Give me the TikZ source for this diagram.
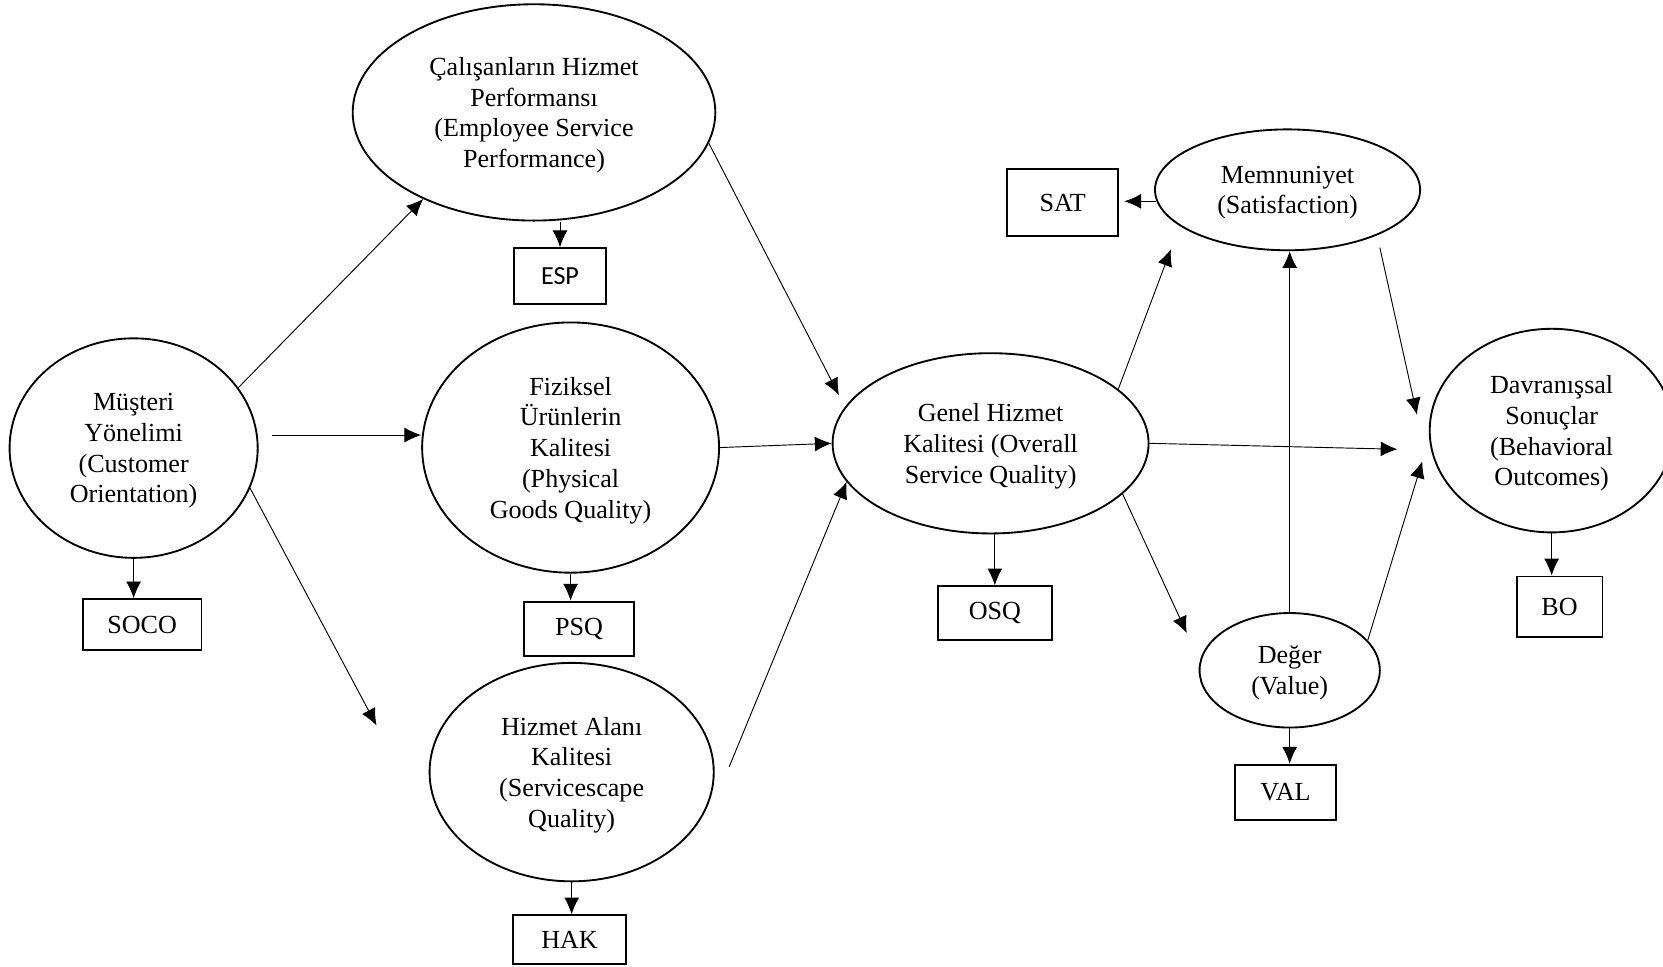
\documentclass[tikz,border=0pt]{standalone}
\usepackage{fontspec}
\setmainfont{Liberation Serif}
\newfontfamily\espfont{Carlito}
\usetikzlibrary{arrows.meta,shapes.geometric}

\begin{document}
\begin{tikzpicture}[x=0.02cm,y=-0.02cm,
  latent/.style={ellipse,draw,line width=1pt,inner sep=0pt,align=center,font=\fontsize{14}{16.5}\selectfont,text depth=-1.5pt},
  ind/.style={rectangle,draw,line width=1pt,inner sep=0pt,font=\fontsize{14}{16.5}\selectfont},
  arr/.style={-{Latex[length=9pt,width=8pt]},line width=0.5pt}]
\useasboundingbox (0,0) rectangle (1568,911);

\node[latent,minimum width=6.84cm,minimum height=4.08cm] (esp) at (503.5,106) {Çalışanların Hizmet\\Performansı\\(Employee Service\\Performance)};
\node[latent,minimum width=4.68cm,minimum height=4.14cm] (co) at (126,422.5) {Müşteri\\Yönelimi\\(Customer\\Orientation)};
\node[latent,minimum width=5.6cm,minimum height=4.72cm] (psq) at (538,422) {Fiziksel\\Ürünlerin\\Kalitesi\\(Physical\\Goods Quality)};
\node[latent,minimum width=5.36cm,minimum height=4.12cm] (hak) at (539,728) {Hizmet Alanı\\Kalitesi\\(Servicescape\\Quality)};
\node[latent,minimum width=5.96cm,minimum height=3.4cm] (osq) at (934,418) {Genel Hizmet\\Kalitesi (Overall\\Service Quality)};
\node[latent,minimum width=5cm,minimum height=2.28cm] (sat) at (1214,179) {Memnuniyet\\(Satisfaction)};
\node[latent,minimum width=3.4cm,minimum height=2.16cm] (val) at (1216,632) {Değer\\(Value)};
\node[latent,minimum width=4.6cm,minimum height=3.84cm] (bo) at (1463,406) {Davranışsal\\Sonuçlar\\(Behavioral\\Outcomes)};

\node[ind,minimum width=1.75cm,minimum height=1.06cm] (ESP) at (528,260.5) {\espfont ESP};
\node[ind,minimum width=2.24cm,minimum height=0.96cm] (SOCO) at (134,589) {SOCO};
\node[ind,minimum width=2.08cm,minimum height=1.03cm] (PSQ) at (546,593) {PSQ};
\node[ind,minimum width=2.12cm,minimum height=0.92cm] (HAK) at (537,886) {HAK};
\node[ind,minimum width=2.14cm,minimum height=1.01cm] (OSQ) at (938,578) {OSQ};
\node[ind,minimum width=2.09cm,minimum height=1.26cm] (SAT) at (1002,191) {SAT};
\node[ind,minimum width=1.9cm,minimum height=1.04cm] (VAL) at (1212,747) {VAL};
\node[ind,minimum width=1.62cm,minimum height=1.14cm] (BO) at (1470.5,572) {BO};

\coordinate (toHAK) at (355,684);
\coordinate (toOSQa) at (791,372.5);
\coordinate (fromHAK) at (687.5,723);
\coordinate (toSAT) at (1104,235);
\coordinate (toBOa) at (1317.6,423.6);
\coordinate (toVAL) at (1119,597);
\coordinate (fromSAT) at (1301,233.5);
\coordinate (toBOb) at (1336,391);
\coordinate (toBOc) at (1341,435);

\draw[arr] (co.30) -- (esp.218);
\draw[arr,shorten <=0.27cm] (co.6) -- (co.6 -| psq.west);
\draw[arr] (co.-19) -- (toHAK);
\draw[arr] (esp.-10) -- (toOSQa);
\draw[arr] (psq.east) -- (osq.west);
\draw[arr] (fromHAK) -- (osq.195);
\draw[arr] (osq.23) -- (toSAT);
\draw[arr] (osq.east) -- (toBOa);
\draw[arr] (osq.-21) -- (toVAL);
\draw[arr] (val.north) -- (val.north |- sat.south);
\draw[arr] (fromSAT) -- (toBOb);
\draw[arr] (val.21) -- (toBOc);
\draw[arr,shorten >=0.1cm] (sat.185) -- (sat.185 -| SAT.east);

\draw[arr] (ESP.north |- esp.south) -- (ESP.north);
\draw[arr] (co.south) -- (co.south |- SOCO.north);
\draw[arr] (psq.south) -- (psq.south |- PSQ.north);
\draw[arr] (hak.south) -- (hak.south |- HAK.north);
\draw[arr] (OSQ.north |- osq.south) -- (OSQ.north);
\draw[arr] (val.south) -- (val.south |- VAL.north);
\draw[arr] (bo.south) -- (bo.south |- BO.north);
\end{tikzpicture}
\end{document}
